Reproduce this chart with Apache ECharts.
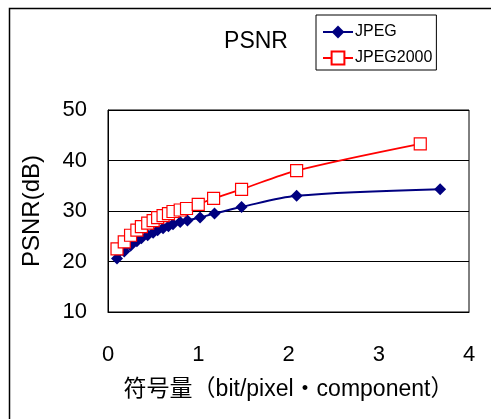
<!DOCTYPE html>
<html><head><meta charset="utf-8">
<script src="https://cdn.jsdelivr.net/npm/echarts@6/dist/echarts.min.js"></script>
<style>html,body{margin:0;padding:0;background:#fff}#c{width:491px;height:419px}</style>
</head><body><div id="c"></div>
<script>
var FONT = "'Liberation Sans', 'Noto Sans CJK JP', sans-serif";
var titleText = 'PSNR';
var xName = '符号量（bit/pixel・component）';
var yName = 'PSNR(dB)';
var seriesNames = ['JPEG', 'JPEG2000'];
var jpegX = [0.10,0.18,0.25,0.32,0.37,0.44,0.50,0.55,0.61,0.67,0.72,0.80,0.88,1.02,1.18,1.48,2.09,3.68];
var jpegY = [20.6,22.0,23.1,24.0,24.6,25.2,25.7,26.2,26.6,27.0,27.4,27.8,28.1,28.7,29.5,30.8,33.0,34.3];
var j2kX = [0.10,0.18,0.25,0.32,0.37,0.44,0.50,0.55,0.61,0.67,0.72,0.80,0.87,1.00,1.17,1.48,2.09,3.46];
var j2kY = [22.5,23.9,25.2,26.2,26.9,27.6,28.1,28.7,29.1,29.5,29.9,30.2,30.5,31.3,32.5,34.3,38.0,43.3];

function pairs(xs, ys){ return xs.map(function(x,i){return [x, ys[i]];}); }

var chart = echarts.init(document.getElementById('c'), null, {renderer:'canvas'});
chart.setOption({
  animation:false,
  backgroundColor:'#fff',
  textStyle:{fontFamily:FONT},
  title:{text:titleText, left:251, top:25, textAlign:'center',
    textStyle:{fontFamily:FONT, fontSize:23, fontWeight:'normal', color:'#000'}},
  legend:{orient:'vertical', left:316, top:15,
    padding:[9,4,4,6], itemGap:10, itemWidth:30, itemHeight:16,
    borderColor:'#000', borderWidth:1, backgroundColor:'#fff',
    textStyle:{fontFamily:FONT, fontSize:16, color:'#000', padding:[0,0,0,-3]},
    data:seriesNames},
  graphic:[{type:'rect', left:7, top:6, shape:{width:600, height:600},
    style:{fill:'none', stroke:'#000', lineWidth:1.5}, z:-10, silent:true}],
  grid:{left:108, top:110, right:22, bottom:107, show:true, borderColor:'#000', borderWidth:1, backgroundColor:'#fff'},
  xAxis:{type:'value', min:0, max:4, interval:1,
    name:xName, nameLocation:'middle', nameGap:66,
    nameTextStyle:{fontFamily:FONT, fontSize:23, color:'#000'},
    axisLine:{lineStyle:{color:'#000'}}, axisTick:{show:false}, splitLine:{show:false},
    axisLabel:{margin:32, fontFamily:FONT, fontSize:22, color:'#000'}},
  yAxis:{type:'value', min:10, max:50, interval:10,
    name:yName, nameLocation:'middle', nameGap:64,
    nameTextStyle:{fontFamily:FONT, fontSize:24, color:'#000'},
    axisLine:{show:true, lineStyle:{color:'#000'}}, axisTick:{show:false},
    splitLine:{lineStyle:{color:'#000', width:1}},
    axisLabel:{margin:21, fontFamily:FONT, fontSize:22, color:'#000'}},
  series:[
    {name:seriesNames[0], type:'line', data:pairs(jpegX, jpegY), smooth:0.3,
     symbol:'diamond', symbolSize:12,
     itemStyle:{color:'#000080'}, lineStyle:{color:'#000080', width:2}},
    {name:seriesNames[1], type:'line', data:pairs(j2kX, j2kY), smooth:0.3,
     symbol:'rect', symbolSize:12,
     itemStyle:{color:'#fff', borderColor:'#ff0000', borderWidth:1.2},
     lineStyle:{color:'#ff0000', width:1.8}}
  ]
});
</script></body></html>
